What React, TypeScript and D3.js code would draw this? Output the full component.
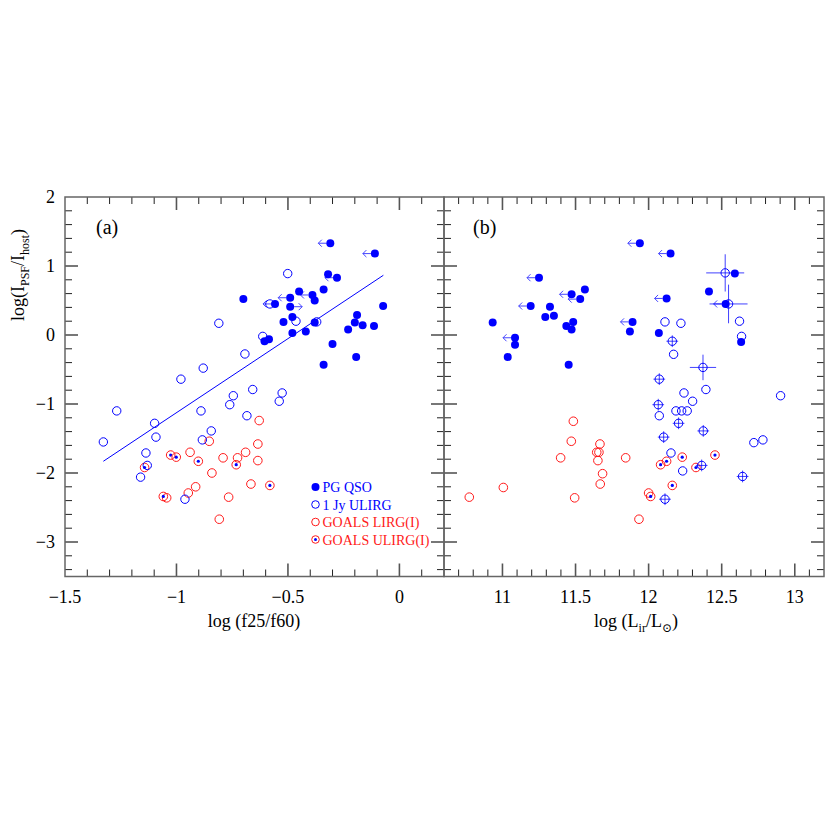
import React from 'react';
import * as d3 from 'd3';

// panel (a): log(f25/f60) ; panel (b): log(Lir/Lsun) ; y: log(Ipsf/Ihost)
// [x, y, limit]  limit -1 = arrow to the left, 1 = arrow to the right
const qsoA = [
    [-0.70, 0.52, 0], [-0.31, 1.33, -1], [-0.11, 1.18, -1], [-0.32, 0.88, 0],
    [-0.28, 0.83, -1], [-0.45, 0.63, 0], [-0.34, 0.66, 0], [-0.39, 0.58, -1],
    [-0.38, 0.50, 0], [-0.49, 0.54, -1], [-0.49, 0.41, 1], [-0.48, 0.26, 0],
    [-0.52, 0.19, 0], [-0.38, 0.18, 0], [-0.48, 0.03, 0], [-0.42, 0.05, 0],
    [-0.585, -0.06, 0], [-0.605, -0.09, 0], [-0.19, 0.29, 0], [-0.20, 0.18, 0],
    [-0.165, 0.14, 0], [-0.114, 0.13, 0], [-0.23, 0.08, 0], [-0.073, 0.42, 0],
    [-0.30, -0.13, 0], [-0.194, -0.32, 0], [-0.34, -0.43, 0], [-0.558, 0.45, -1],
];
const ulirgA = [
    [-0.81, 0.17], [-0.693, -0.275], [-0.88, -0.48], [-0.98, -0.64], [-0.658, -0.79],
    [-0.745, -0.88], [-0.761, -1.01], [-1.268, -1.10], [-0.89, -1.10], [-0.684, -1.17],
    [-1.328, -1.55], [-1.098, -1.28], [-1.092, -1.48], [-0.844, -1.39], [-0.884, -1.52],
    [-1.137, -1.71], [-1.131, -1.89], [-1.161, -2.06], [-0.962, -2.38], [-0.526, -0.84],
    [-0.539, -0.96], [-0.501, 0.89], [-0.464, 0.20], [-0.371, 0.19], [-0.613, -0.02],
    [-0.581, 0.45],
];
const lirgA = [
    [-0.629, -1.24], [-0.853, -1.54], [-0.635, -1.58], [-0.939, -1.70], [-0.69, -1.70],
    [-0.791, -1.78], [-0.726, -1.78], [-0.635, -1.82], [-0.841, -2.00], [-0.666, -2.16],
    [-0.914, -2.20], [-0.947, -2.29], [-1.044, -2.36], [-0.766, -2.35], [-0.808, -2.67],
];
const goalsUlirgA = [
    [-1.026, -1.74], [-1.001, -1.77], [-0.902, -1.83], [-0.732, -1.88],
    [-1.143, -1.92], [-1.059, -2.34], [-0.581, -2.18],
];
// linear fit drawn in panel (a)
const fitSlope = 2.146;
const fitIntercept = 1.02;
const fitRange = [-1.328, -0.072];

const qsoB = [
    [11.25, 0.83, -1], [11.473, 0.59, -1], [11.564, 0.66, 0], [11.532, 0.52, -1],
    [11.193, 0.42, -1], [11.325, 0.41, 0], [11.293, 0.26, 0], [11.352, 0.28, 0],
    [10.933, 0.18, 0], [11.437, 0.13, 0], [11.484, 0.19, 0], [11.473, 0.08, 0],
    [11.086, -0.04, -1], [11.086, -0.14, 0], [11.036, -0.32, 0], [11.453, -0.43, 0],
    [11.94, 1.33, -1], [11.89, 0.19, -1], [11.872, 0.05, 0], [12.15, 1.18, -1],
    [12.123, 0.53, -1], [12.413, 0.63, 0], [12.59, 0.89, 0], [12.527, 0.45, -1],
    [12.07, 0.03, 0], [12.633, -0.10, 0],
];
// [x, y, xerr, yerr]
const ulirgB = [
    [12.524, 0.90, 0.13, 0.27], [12.547, 0.45, 0.13, 0.28], [12.112, 0.19, 0, 0],
    [12.221, 0.17, 0, 0], [12.622, 0.20, 0, 0], [12.636, -0.02, 0, 0],
    [12.162, -0.09, 0.04, 0.085], [12.171, -0.28, 0, 0], [12.372, -0.47, 0.09, 0.185],
    [12.073, -0.64, 0.04, 0.085], [12.242, -0.84, 0, 0], [12.392, -0.79, 0, 0],
    [12.903, -0.88, 0, 0], [12.066, -1.01, 0.04, 0.085], [12.301, -0.96, 0, 0],
    [12.073, -1.17, 0, 0], [12.187, -1.10, 0, 0], [12.226, -1.10, 0, 0],
    [12.264, -1.10, 0, 0], [12.205, -1.28, 0.04, 0.085], [12.374, -1.39, 0.04, 0.085],
    [12.103, -1.48, 0.04, 0.085], [12.72, -1.56, 0, 0], [12.782, -1.52, 0, 0],
    [12.153, -1.71, 0, 0], [12.363, -1.89, 0.04, 0.085], [12.233, -1.97, 0, 0],
    [12.643, -2.05, 0.04, 0.085], [12.112, -2.38, 0.04, 0.085],
];
const lirgB = [
    [11.485, -1.25], [11.471, -1.54], [11.667, -1.58], [11.645, -1.70], [11.66, -1.70],
    [11.653, -1.82], [11.398, -1.78], [11.843, -1.78], [11.685, -2.01], [11.669, -2.16],
    [11.006, -2.21], [10.773, -2.35], [11.494, -2.36], [11.934, -2.67], [12.0, -2.29],
];
const goalsUlirgB = [
    [12.23, -1.77], [12.454, -1.74], [12.123, -1.83], [12.082, -1.88],
    [12.324, -1.92], [12.162, -2.18], [12.014, -2.34],
];

const xTicksA = [-1.5, -1, -0.5, 0];
const xTicksB = [11, 11.5, 12, 12.5, 13];
const yTicks = [2, 1, 0, -1, -2, -3];
const legendLabels = ['PG QSO', '1 Jy ULIRG', 'GOALS LIRG(I)', 'GOALS ULIRG(I)'];

const BLUE = '#0000ff';
const RED = '#ff1a1a';
const FONT = "'Liberation Serif', 'DejaVu Serif', serif";

const top = 197, bottom = 576.5;
const y = d3.scaleLinear().domain([-3.5, 2]).range([bottom, top]);
const xA = d3.scaleLinear().domain([-1.5, 0.2]).range([65, 444]);
const xB = d3.scaleLinear().domain([10.6, 13.2]).range([444, 824]);

const fmt = (v: number) => String(v).replace('-', '\u2212');

function Frame({ x }: { x: d3.ScaleLinear<number, number> }) {
    const [x0, x1] = x.range();
    const [d0, d1] = x.domain();
    const xs = d3.range(Math.ceil(d0 * 10 - 1e-6), Math.floor(d1 * 10 + 1e-6) + 1).map(v => v / 10);
    const ys = d3.range(-17, 11).map(v => v / 5);
    const isMajX = (v: number) => Math.abs(v * 2 - Math.round(v * 2)) < 1e-6;
    const isMajY = (v: number) => Math.abs(v - Math.round(v)) < 1e-6;
    const tickStyle = (maj: boolean) => ({ stroke: maj ? '#555' : '#222', strokeWidth: maj ? 1.6 : 1 });
    return (
        <g>
            {xs.filter(v => v > d0 + 1e-6 && v < d1 - 1e-6).map((v, i) => {
                const L = isMajX(v) ? 13 : 7;
                return (
                    <g key={'x' + i} {...tickStyle(isMajX(v))}>
                        <line x1={x(v)} x2={x(v)} y1={bottom} y2={bottom - L} />
                        <line x1={x(v)} x2={x(v)} y1={top} y2={top + L} />
                    </g>
                );
            })}
            {ys.filter(v => v > -3.5 && v < 2 - 1e-6).map((v, i) => {
                const L = isMajY(v) ? 13 : 7;
                return (
                    <g key={'y' + i} {...tickStyle(isMajY(v))}>
                        <line x1={x0} x2={x0 + L} y1={y(v)} y2={y(v)} />
                        <line x1={x1} x2={x1 - L} y1={y(v)} y2={y(v)} />
                    </g>
                );
            })}
            <rect x={x0} y={top} width={x1 - x0} height={bottom - top} fill="none" stroke="#666" strokeWidth={1.5} />
        </g>
    );
}

function Arrow({ cx, cy, dir }: { cx: number; cy: number; dir: number }) {
    if (!dir) return null;
    const a = cx + dir * 4;
    const b = cx + dir * 12;
    return (
        <g stroke={BLUE} strokeWidth={0.9} fill="none" opacity={0.8}>
            <line x1={a} x2={b} y1={cy} y2={cy} />
            <path d={`M${b - dir * 3.5},${cy - 3.5} L${b},${cy} L${b - dir * 3.5},${cy + 3.5}`} />
        </g>
    );
}

function Points({ x, qso, ulirg, lirg, gul }: any) {
    return (
        <g>
            {lirg.map((d: number[], i: number) => (
                <circle key={'l' + i} cx={x(d[0])} cy={y(d[1])} r={4.3} fill="none" stroke={RED} strokeWidth={1} />
            ))}
            {gul.map((d: number[], i: number) => (
                <g key={'g' + i}>
                    <circle cx={x(d[0])} cy={y(d[1])} r={4.3} fill="none" stroke={RED} strokeWidth={1} />
                    <circle cx={x(d[0])} cy={y(d[1])} r={1.6} fill={BLUE} />
                </g>
            ))}
            {ulirg.map((d: number[], i: number) => {
                const cx = x(d[0]), cy = y(d[1]);
                const xe = d[2] || 0, ye = d[3] || 0;
                return (
                    <g key={'u' + i} stroke={BLUE} fill="none" strokeWidth={1}>
                        <circle cx={cx} cy={cy} r={4.2} />
                        {xe > 0 && <line x1={x(d[0] - xe)} x2={x(d[0] + xe)} y1={cy} y2={cy} opacity={0.75} />}
                        {ye > 0 && <line x1={cx} x2={cx} y1={y(d[1] - ye)} y2={y(d[1] + ye)} opacity={0.75} />}
                    </g>
                );
            })}
            {qso.map((d: number[], i: number) => (
                <g key={'q' + i}>
                    <circle cx={x(d[0])} cy={y(d[1])} r={4} fill={BLUE} />
                    <Arrow cx={x(d[0])} cy={y(d[1])} dir={d[2]} />
                </g>
            ))}
        </g>
    );
}

export default function App() {
    const fitLine = d3.line<number>().x(v => xA(v)).y(v => y(fitSlope * v + fitIntercept));
    const legX = 315.5, legY0 = 487, legDy = 17.5;
    const legColors = [BLUE, BLUE, RED, RED];
    return (
        <div style={{ position: 'absolute', left: 0, top: 0 }}>
            <svg width={830} height={830} style={{ display: 'block', background: '#fff' }} fontFamily={FONT}>
                <Frame x={xA} />
                <Frame x={xB} />
                <path d={fitLine(fitRange) || ''} stroke={BLUE} strokeWidth={1} fill="none" />
                <Points x={xA} qso={qsoA} ulirg={ulirgA} lirg={lirgA} gul={goalsUlirgA} />
                <Points x={xB} qso={qsoB} ulirg={ulirgB} lirg={lirgB} gul={goalsUlirgB} />

                <text x={96} y={234} fontSize={20}>(a)</text>
                <text x={473} y={234} fontSize={20}>(b)</text>

                {/* legend */}
                {legendLabels.map((lab, i) => {
                    const cy = legY0 + i * legDy;
                    return (
                        <g key={lab}>
                            {i === 0 && <circle cx={legX} cy={cy} r={4} fill={BLUE} />}
                            {i > 0 && <circle cx={legX} cy={cy} r={3.8} fill="none" stroke={legColors[i]} strokeWidth={1} />}
                            {i === 3 && <circle cx={legX} cy={cy} r={1.5} fill={BLUE} />}
                            <text x={legX + 7} y={cy + 5} fontSize={14} fill={legColors[i]}>{lab}</text>
                        </g>
                    );
                })}

                {/* tick labels */}
                {yTicks.map(v => (
                    <text key={'yl' + v} x={55} y={y(v) + 6} fontSize={18} textAnchor="end">{fmt(v)}</text>
                ))}
                {xTicksA.map(v => (
                    <text key={'xa' + v} x={xA(v)} y={603} fontSize={18} textAnchor="middle">{fmt(v)}</text>
                ))}
                {xTicksB.map(v => (
                    <text key={'xb' + v} x={xB(v)} y={603} fontSize={18} textAnchor="middle">{fmt(v)}</text>
                ))}

                {/* axis titles */}
                <text x={254} y={627} fontSize={18} textAnchor="middle">log (f25/f60)</text>
                <text x={636} y={627} fontSize={18} textAnchor="middle">
                    log (L<tspan fontSize={12} dy={5}>ir</tspan><tspan dy={-5}>/L</tspan>
                    <tspan fontSize={12} dy={5}>{'\u2299'}</tspan><tspan dy={-5}>)</tspan>
                </text>
                <text transform="translate(24,275) rotate(-90)" fontSize={18} textAnchor="middle">
                    log(I<tspan fontSize={12} dy={5}>PSF</tspan><tspan dy={-5}>/I</tspan>
                    <tspan fontSize={12} dy={5}>host</tspan><tspan dy={-5}>)</tspan>
                </text>
            </svg>
        </div>
    );
}
